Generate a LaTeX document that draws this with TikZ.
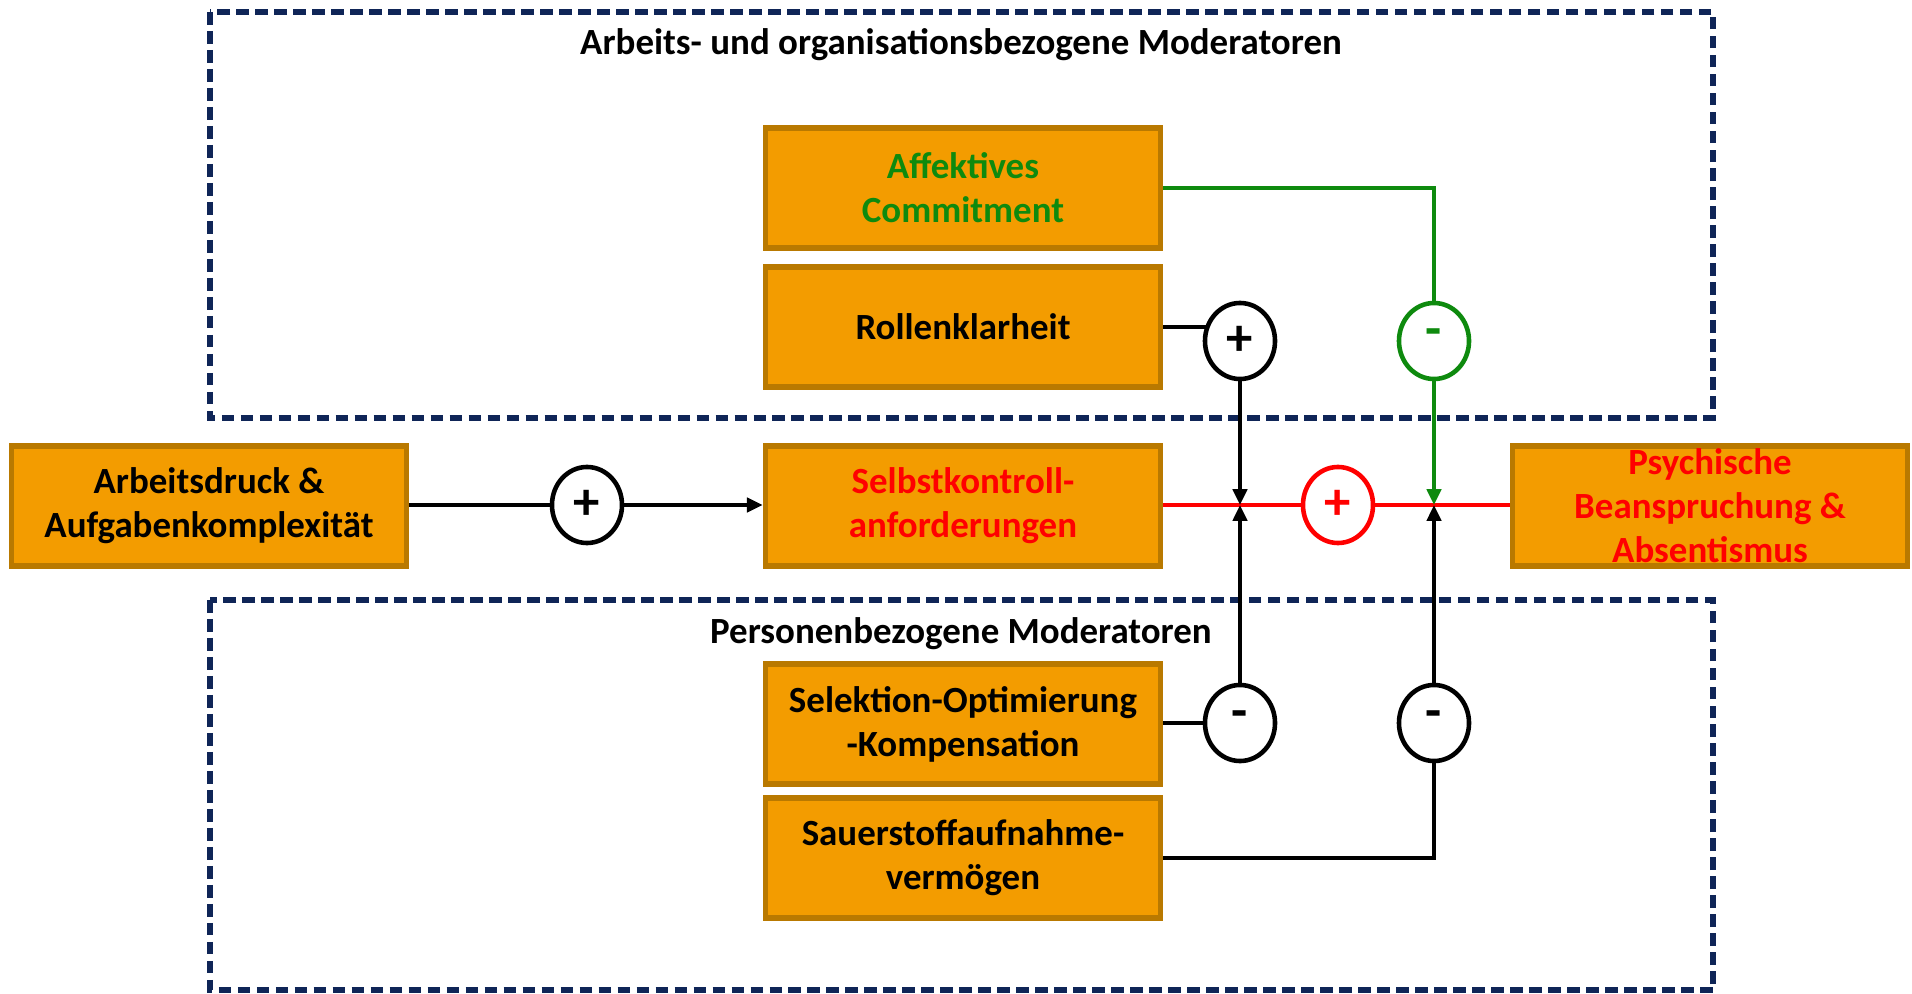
\documentclass[tikz,border=0pt]{standalone}
\usepackage{fontspec}
\setmainfont{Carlito}
\usetikzlibrary{shapes.geometric,arrows.meta,backgrounds}

\definecolor{boxfill}{HTML}{F39C00}
\definecolor{boxline}{HTML}{B97900}
\definecolor{navy}{HTML}{0F2557}
\definecolor{moss}{HTML}{0E8A0E}

\tikzset{
  factor/.style={draw=boxline, fill=boxfill, line width=1.5pt, minimum width=3.95cm,
    minimum height=1.2cm, inner sep=0pt, align=center,
    font=\bfseries\fontsize{10.5}{12.5}\selectfont},
  sign/.style={draw, ellipse, fill=white, line width=1.3pt, minimum width=0.7cm,
    minimum height=0.76cm, inner sep=0pt, font=\bfseries\fontsize{15}{15}\selectfont},
  group/.style={draw=navy, line width=1.5pt, dash pattern=on 3.6pt off 1.8pt},
  title/.style={font=\bfseries\fontsize{10.5}{12.5}\selectfont},
  link/.style={line width=1.2pt},
  tip/.style={-{Triangle[length=4.5pt,width=4pt]}},
}

\begin{document}
\begin{tikzpicture}[x=0.01cm, y=-0.01cm]
  \useasboundingbox (0,0) rectangle (1912,994);

  % moderator groups
  \draw[group] (210,12) rectangle (1713,418);
  \draw[group] (210,600) rectangle (1713,990);
  \node[title] (orgtitle) at (961,45) {Arbeits- und organisationsbezogene Moderatoren};
  \node[title] (pertitle) at (961,634) {Personenbezogene Moderatoren};

  % factors
  \node[factor] (druck) at (209,506) {Arbeitsdruck \&\\Aufgabenkomplexität};
  \node[factor, text=red] (selbst) at (963,506) {Selbstkontroll-\\anforderungen};
  \node[factor, text=red] (psych) at (1710,506) {Psychische\\Beanspruchung \&\\Absentismus};
  \node[factor, text=moss] (affekt) at (963,188) {Affektives\\Commitment};
  \node[factor] (rollen) at (963,327) {Rollenklarheit};
  \node[factor] (selek) at (963,724) {Selektion-Optimierung\\-Kompensation};
  \node[factor] (sauer) at (963,858) {Sauerstoffaufnahme-\\vermögen};

  % signs
  \node[sign] (plusA) at (587,505) {+};
  \node[sign, draw=red, text=red] (plusM) at (1338,505) {+};
  \node[sign] (plusR) at (1240,341) {+};
  \node[sign, draw=moss, text=moss] (minusG) at (1434,341) {\raisebox{2pt}{-}};
  \node[sign] (minusS) at (1240,723) {\raisebox{2pt}{-}};
  \node[sign] (minusO) at (1434,723) {\raisebox{2pt}{-}};

  \coordinate (hitR) at (plusR |- plusM);
  \coordinate (hitG) at (minusG |- plusM);

  % main path
  \draw[link] (druck.east |- plusA) -- (plusA);
  \draw[link, tip] (plusA) -- (selbst.west |- plusA);
  \begin{scope}[on background layer]
    \draw[link, red] (selbst.east |- plusM) -- (plusM) -- (psych.west |- plusM);
    \draw[link] (rollen.east) -- (rollen.east -| plusR);
    \draw[link] (selek.east |- minusS) -- (minusS);
  \end{scope}

  % moderations
  \draw[link, moss] (affekt.east) -| (minusG.north);
  \draw[link, moss, tip] (minusG.south) -- (hitG);
  \draw[link, tip] (plusR.south) -- (hitR);
  \draw[link, tip] (minusS.north) -- (hitR);
  \draw[link] (sauer.east) -| (minusO.south);
  \draw[link, tip] (minusO.north) -- (hitG);
\end{tikzpicture}
\end{document}
